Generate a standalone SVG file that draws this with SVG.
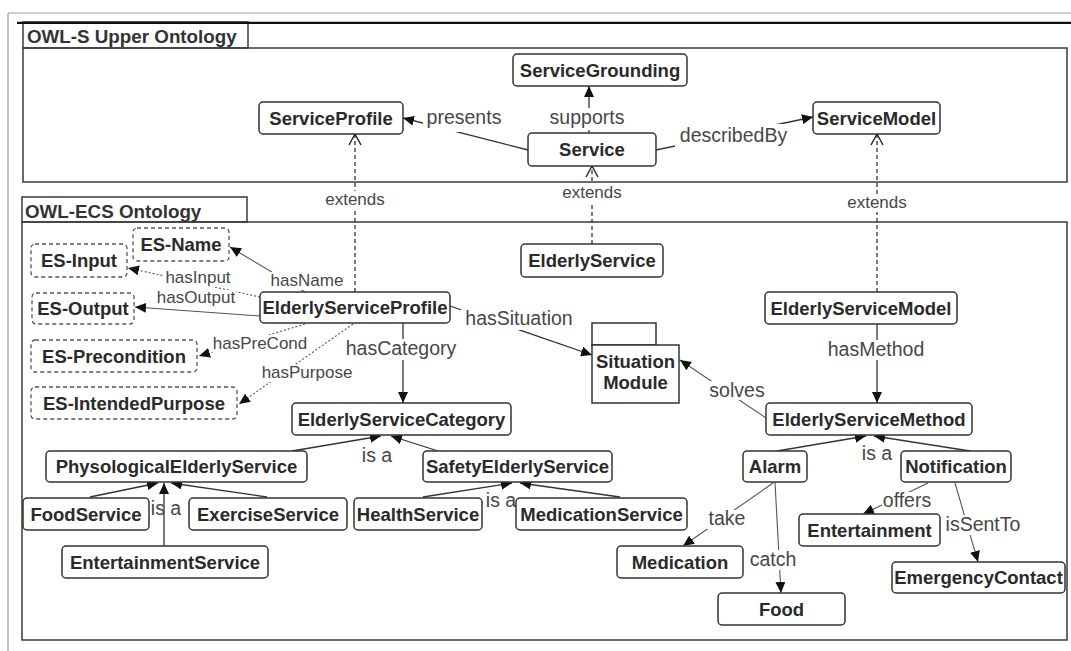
<svg xmlns="http://www.w3.org/2000/svg" width="1071" height="651" viewBox="0 0 1071 651">
  <defs>
    <style>
      .frame { fill: none; stroke: #3a3a3a; stroke-width: 1.5; }
      .title { font-family: "Liberation Sans", Arial, sans-serif; font-weight: bold; font-size: 18.8px; fill: #333; }
      .node rect { fill: #fff; stroke: #333; stroke-width: 1.5; }
      .dnode rect { fill: #fff; stroke: #555; stroke-width: 1.3; stroke-dasharray: 4 3; }
      .pkg { fill: #fff; stroke: #333; stroke-width: 1.5; }
      .nt { font-family: "Liberation Sans", Arial, sans-serif; font-weight: bold; font-size: 18.5px; fill: #2a2a2a; text-anchor: middle; }
      .lb { font-family: "Liberation Sans", Arial, sans-serif; font-size: 19.5px; fill: #474747; text-anchor: middle; }
      .sl { font-family: "Liberation Sans", Arial, sans-serif; font-size: 17px; fill: #474747; text-anchor: middle; }
      .e { fill: none; stroke: #333; stroke-width: 1.3; }
      .g { stroke: #555; stroke-width: 1.1; }
      .dash { stroke-dasharray: 4 3; }
      .dot { stroke-dasharray: 2 2; }
      .bg { fill: #fff; stroke: none; }
    </style>
    <marker id="arrow" viewBox="0 0 11 10" refX="11" refY="5" markerWidth="11" markerHeight="10" markerUnits="userSpaceOnUse" orient="auto">
      <path d="M0,0 L11,5 L0,10 z" fill="#111"/>
    </marker>
    <marker id="open" viewBox="0 0 13 14" refX="12" refY="7" markerWidth="13" markerHeight="14" markerUnits="userSpaceOnUse" orient="auto">
      <path d="M1,1 L12,7 L1,13" fill="none" stroke="#222" stroke-width="1.4"/>
    </marker>
  </defs>

  <rect width="1071" height="651" fill="#fff"/>

  <!-- page rules -->
  <line x1="8" y1="13" x2="1071" y2="13" stroke="#9a9a9a" stroke-width="1"/>
  <line x1="8" y1="13" x2="8" y2="651" stroke="#8a8a8a" stroke-width="1"/>

  <!-- OWL-S upper ontology container -->
  <g id="owls-container">
    <rect class="frame" x="23" y="48" width="1044" height="134"/>
    <rect class="frame" x="23" y="22" width="225" height="26"/>
    <text class="title" x="27" y="43">OWL-S Upper Ontology</text>
  </g>
  <line x1="17" y1="22.8" x2="1071" y2="22.8" stroke="#111" stroke-width="2.3"/>

  <!-- OWL-ECS ontology container -->
  <g id="owlecs-container">
    <rect class="frame" x="22" y="222" width="1045" height="418"/>
    <rect class="frame" x="22" y="197" width="225" height="25"/>
    <text class="title" x="25" y="218">OWL-ECS Ontology</text>
  </g>

  <!-- connectors -->
  <g id="connectors">
    <!-- OWL-S relations -->
    <path class="e" d="M528,150 L403,118" marker-end="url(#arrow)"/>
    <path class="e" d="M589,133 L589,86" marker-end="url(#arrow)"/>
    <path class="e" d="M656,150 L813,117" marker-end="url(#arrow)"/>

    <!-- extends -->
    <path class="e dash" d="M355,292 L355,134" marker-end="url(#open)"/>
    <path class="e dash" d="M592,244 L592,166" marker-end="url(#open)"/>
    <path class="e dash" d="M877,292 L877,134" marker-end="url(#open)"/>

    <!-- profile properties -->
    <path class="e g" d="M305,292 L230,247" marker-end="url(#arrow)"/>
    <path class="e g dot" d="M260,297 L128,268" marker-end="url(#arrow)"/>
    <path class="e g" d="M260,316 L135,307" marker-end="url(#arrow)"/>
    <path class="e g dot" d="M305,324 L199,356" marker-end="url(#arrow)"/>
    <path class="e g dot" d="M353,324 L239,404" marker-end="url(#arrow)"/>

    <path class="e" d="M403,323 L403,403" marker-end="url(#arrow)"/>
    <path class="e" d="M450,306 L592,355" marker-end="url(#arrow)"/>
    <path class="e" d="M877,324 L877,403" marker-end="url(#arrow)"/>
    <path class="e g" d="M766,418 L680,360" marker-end="url(#arrow)"/>

    <!-- is a hierarchies -->
    <path class="e" d="M292,451 L381,436" marker-end="url(#arrow)"/>
    <path class="e" d="M438,451 L391,436" marker-end="url(#arrow)"/>
    <path class="e" d="M90,497 L158,483" marker-end="url(#arrow)"/>
    <path class="e" d="M267,497 L171,483" marker-end="url(#arrow)"/>
    <path class="e" d="M164,546 L164,483" marker-end="url(#arrow)"/>
    <path class="e" d="M423,497 L512,483" marker-end="url(#arrow)"/>
    <path class="e" d="M620,497 L520,483" marker-end="url(#arrow)"/>
    <path class="e" d="M777,451 L866,436" marker-end="url(#arrow)"/>
    <path class="e" d="M970,451 L874,436" marker-end="url(#arrow)"/>

    <!-- method relations -->
    <path class="e g" d="M773,483 L683,546" marker-end="url(#arrow)"/>
    <path class="e g" d="M775,482 L781,593" marker-end="url(#arrow)"/>
    <path class="e g" d="M928,483 L863,514" marker-end="url(#arrow)"/>
    <path class="e g" d="M955,483 L978,562" marker-end="url(#arrow)"/>

    <!-- labels -->
    <rect class="bg" x="423" y="107" width="82" height="25"/>
    <text class="lb" x="464" y="124">presents</text>
    <rect class="bg" x="546" y="108" width="82" height="22"/>
    <text class="lb" x="587" y="124">supports</text>
    <rect class="bg" x="675" y="124" width="117" height="24"/>
    <text class="lb" x="733.5" y="142">describedBy</text>

    <rect class="bg" x="323" y="191" width="64" height="18"/>
    <text class="sl" x="355" y="205">extends</text>
    <rect class="bg" x="560" y="184" width="64" height="18"/>
    <text class="sl" x="592" y="198">extends</text>
    <rect class="bg" x="845" y="194" width="64" height="18"/>
    <text class="sl" x="877" y="208">extends</text>

    <rect class="bg" x="269" y="272" width="76" height="18"/>
    <text class="sl" x="307" y="286">hasName</text>
    <rect class="bg" x="163" y="271" width="71" height="16"/>
    <text class="sl" x="198" y="283">hasInput</text>
    <rect class="bg" x="156" y="290" width="80" height="16"/>
    <text class="sl" x="196" y="303">hasOutput</text>
    <rect class="bg" x="211" y="335" width="98" height="17"/>
    <text class="sl" x="260" y="349">hasPreCond</text>
    <rect class="bg" x="260" y="365" width="94" height="17"/>
    <text class="sl" x="307" y="378">hasPurpose</text>

    <rect class="bg" x="341" y="339" width="120" height="21"/>
    <text class="lb" x="401" y="355">hasCategory</text>
    <rect class="bg" x="461" y="309" width="116" height="21"/>
    <text class="lb" x="519" y="325">hasSituation</text>
    <rect class="bg" x="824" y="340" width="104" height="20"/>
    <text class="lb" x="876" y="356">hasMethod</text>
    <rect class="bg" x="707" y="381" width="60" height="19"/>
    <text class="lb" x="737" y="397">solves</text>

    <text class="lb" x="377" y="462">is a</text>
    <text class="lb" x="166" y="515">is a</text>
    <text class="lb" x="501" y="507">is a</text>
    <text class="lb" x="877" y="460">is a</text>

    <rect class="bg" x="706" y="510" width="42" height="19"/>
    <text class="lb" x="727" y="525">take</text>
    <rect class="bg" x="748" y="550" width="50" height="20"/>
    <text class="lb" x="773" y="566">catch</text>
    <rect class="bg" x="882" y="492" width="52" height="18"/>
    <text class="lb" x="907" y="507">offers</text>
    <rect class="bg" x="943" y="515" width="80" height="20"/>
    <text class="lb" x="983" y="531">isSentTo</text>
  </g>

  <!-- OWL-S classes -->
  <g id="ServiceGrounding" class="node"><rect x="513" y="54" width="174" height="32" rx="4"/><text class="nt" x="600" y="77">ServiceGrounding</text></g>
  <g id="ServiceProfile" class="node"><rect x="259" y="102" width="144" height="32" rx="4"/><text class="nt" x="331" y="125">ServiceProfile</text></g>
  <g id="Service" class="node"><rect x="528" y="133" width="128" height="33" rx="4"/><text class="nt" x="592" y="156">Service</text></g>
  <g id="ServiceModel" class="node"><rect x="813" y="102" width="127" height="32" rx="4"/><text class="nt" x="876.5" y="125">ServiceModel</text></g>

  <!-- OWL-ECS classes -->
  <g id="ElderlyService" class="node"><rect x="521" y="244" width="142" height="33" rx="4"/><text class="nt" x="592" y="267">ElderlyService</text></g>
  <g id="ElderlyServiceProfile" class="node"><rect x="260" y="292" width="190" height="31" rx="4"/><text class="nt" x="355" y="314">ElderlyServiceProfile</text></g>
  <g id="ElderlyServiceModel" class="node"><rect x="765" y="292" width="192" height="32" rx="4"/><text class="nt" x="861" y="315">ElderlyServiceModel</text></g>
  <g id="ElderlyServiceMethod" class="node"><rect x="766" y="403" width="206" height="32" rx="4"/><text class="nt" x="869" y="426">ElderlyServiceMethod</text></g>
  <g id="ElderlyServiceCategory" class="node"><rect x="292" y="403" width="219" height="32" rx="4"/><text class="nt" x="401.5" y="426">ElderlyServiceCategory</text></g>

  <g id="SituationModule">
    <rect class="pkg" x="592" y="323" width="64" height="22"/>
    <rect class="pkg" x="592" y="345" width="87" height="58"/>
    <text class="nt" x="635.5" y="368">Situation</text>
    <text class="nt" x="635.5" y="389">Module</text>
  </g>

  <g id="ES-Name" class="dnode"><rect x="133" y="228" width="96" height="33" rx="4"/><text class="nt" x="181" y="251">ES-Name</text></g>
  <g id="ES-Input" class="dnode"><rect x="31" y="244" width="96" height="33" rx="4"/><text class="nt" x="79" y="267">ES-Input</text></g>
  <g id="ES-Output" class="dnode"><rect x="32" y="293" width="102" height="31" rx="4"/><text class="nt" x="83" y="315">ES-Output</text></g>
  <g id="ES-Precondition" class="dnode"><rect x="31" y="340" width="166" height="32" rx="4"/><text class="nt" x="114" y="363">ES-Precondition</text></g>
  <g id="ES-IntendedPurpose" class="dnode"><rect x="31" y="387" width="206" height="32" rx="4"/><text class="nt" x="134" y="410">ES-IntendedPurpose</text></g>

  <g id="PhysologicalElderlyService" class="node"><rect x="46" y="451" width="261" height="31" rx="4"/><text class="nt" x="176.5" y="473">PhysologicalElderlyService</text></g>
  <g id="SafetyElderlyService" class="node"><rect x="423" y="451" width="189" height="31" rx="4"/><text class="nt" x="517.5" y="473">SafetyElderlyService</text></g>
  <g id="FoodService" class="node"><rect x="23" y="498" width="126" height="32" rx="4"/><text class="nt" x="86" y="521">FoodService</text></g>
  <g id="ExerciseService" class="node"><rect x="189" y="498" width="158" height="32" rx="4"/><text class="nt" x="268" y="521">ExerciseService</text></g>
  <g id="HealthService" class="node"><rect x="354" y="498" width="128" height="32" rx="4"/><text class="nt" x="418" y="521">HealthService</text></g>
  <g id="MedicationService" class="node"><rect x="516" y="498" width="171" height="32" rx="4"/><text class="nt" x="601.5" y="521">MedicationService</text></g>
  <g id="EntertainmentService" class="node"><rect x="62" y="546" width="206" height="32" rx="4"/><text class="nt" x="165" y="569">EntertainmentService</text></g>

  <g id="Alarm" class="node"><rect x="743" y="451" width="64" height="31" rx="4"/><text class="nt" x="775" y="473">Alarm</text></g>
  <g id="Notification" class="node"><rect x="901" y="451" width="110" height="31" rx="4"/><text class="nt" x="956" y="473">Notification</text></g>
  <g id="Entertainment" class="node"><rect x="799" y="514" width="141" height="32" rx="4"/><text class="nt" x="869.5" y="537">Entertainment</text></g>
  <g id="Medication" class="node"><rect x="617" y="546" width="126" height="32" rx="4"/><text class="nt" x="680" y="569">Medication</text></g>
  <g id="EmergencyContact" class="node"><rect x="892" y="562" width="173" height="31" rx="4"/><text class="nt" x="978.5" y="584">EmergencyContact</text></g>
  <g id="Food" class="node"><rect x="718" y="593" width="127" height="32" rx="4"/><text class="nt" x="781.5" y="616">Food</text></g>
</svg>
